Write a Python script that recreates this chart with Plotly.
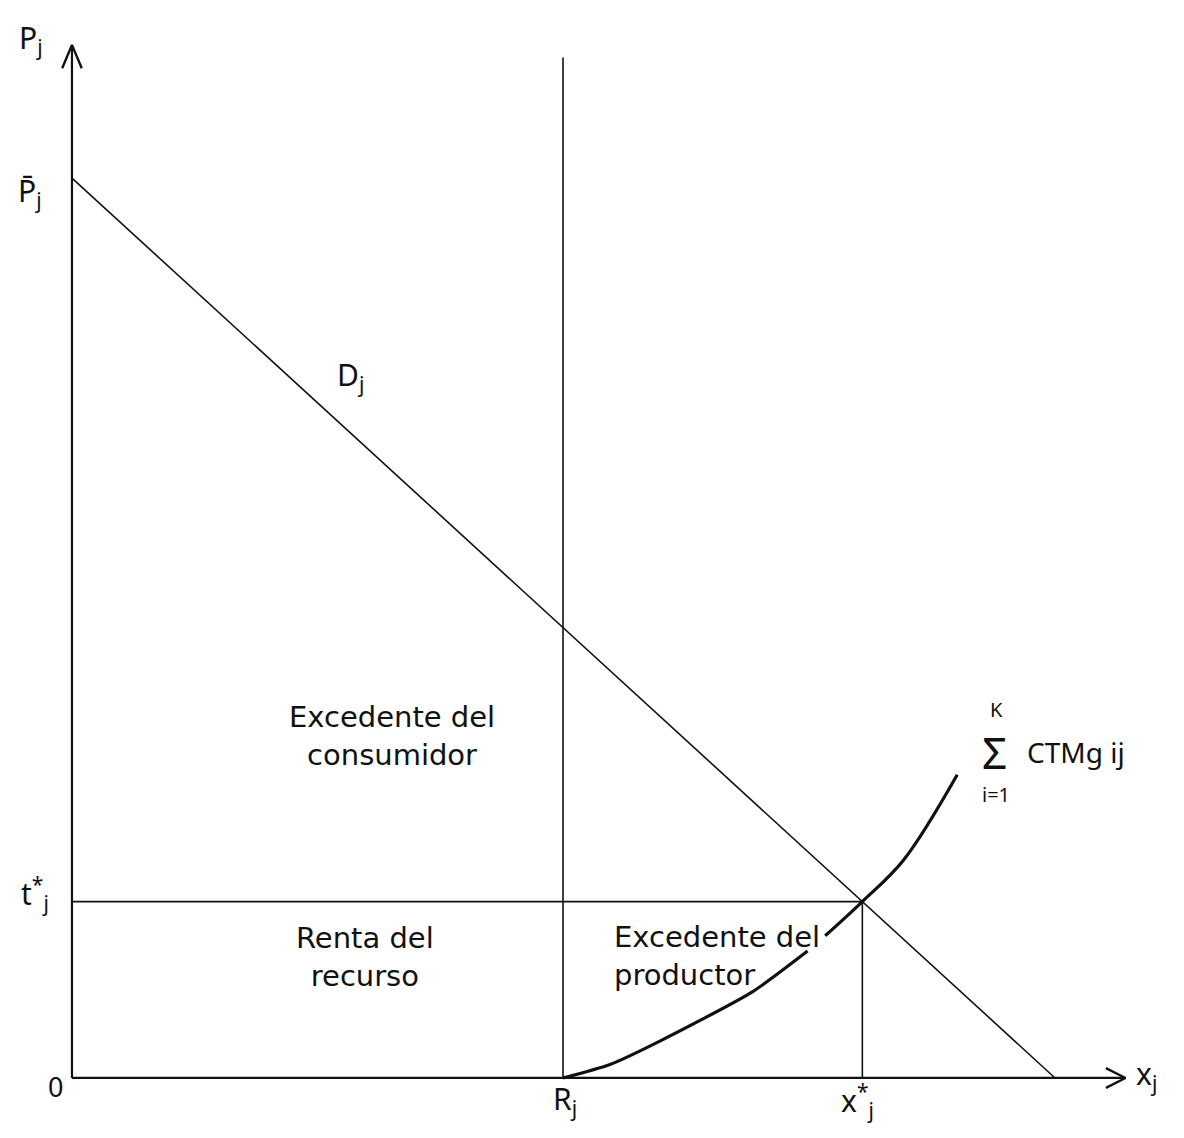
import plotly.graph_objects as go

# ---- data (abstract economic units) ----
demand_x = [0.0, 10.05]
demand_p = [10.0, 0.0]
R_j = 5.02
x_star = 8.08
t_star = 1.96
R_top = 11.34
x_axis_end = 10.77
y_axis_end = 11.48
# aggregate marginal cost curve (split where the label interrupts it)
supply_x1 = [5.02, 5.50, 6.01, 6.96, 7.52]
supply_p1 = [0.0, 0.15, 0.41, 0.96, 1.41]
supply_x2 = [7.70, 8.08, 8.50, 9.05]
supply_p2 = [1.58, 1.96, 2.42, 3.37]

BLACK = "#111111"
HAND = "Noto Sans"
TXT = "DejaVu Sans"

fig = go.Figure()

def line(xs, ys, w=1.6, shape="linear", smooth=0.6):
    fig.add_trace(go.Scatter(x=xs, y=ys, mode="lines",
                             line=dict(color=BLACK, width=w, shape=shape, smoothing=smooth),
                             hoverinfo="skip", showlegend=False))

# axes
line([0, 0], [0, y_axis_end], 2.2)
line([0, x_axis_end], [0, 0], 2.2)
# arrow heads (open V)
line([-0.1, 0, 0.1], [y_axis_end - 0.26, y_axis_end, y_axis_end - 0.26], 2.4)
line([x_axis_end - 0.2, x_axis_end, x_axis_end - 0.2], [0.11, 0, -0.11], 2.4)

# demand
line(demand_x, demand_p, 1.6)
# vertical at R_j
line([R_j, R_j], [0, R_top], 1.6)
# horizontal at t*
line([0, x_star], [t_star, t_star], 1.8)
# vertical at x*
line([x_star, x_star], [0, t_star], 1.6)
# supply
line(supply_x1, supply_p1, 3.2, "spline", 0.6)
line(supply_x2, supply_p2, 3.2, "spline", 1.0)

def ann(x, y, text, size=28, font=HAND, xanchor="center", align="center"):
    fig.add_annotation(x=x, y=y, text=text, showarrow=False,
                       font=dict(family=font, size=size, color=BLACK),
                       xanchor=xanchor, yanchor="middle", align=align)

# handwritten-style axis labels
ann(-0.42, 11.55, "P<sub>j</sub>", 30)
ann(-0.43, 9.85, "P̄<sub>j</sub>", 30)
ann(-0.38, 2.05, "t<sup>*</sup><sub>j</sub>", 30)
ann(-0.17, -0.09, "0", 27)
ann(R_j + 0.02, -0.25, "R<sub>j</sub>", 30)
ann(x_star - 0.05, -0.25, "x<sup>*</sup><sub>j</sub>", 30)
ann(10.98, 0.03, "x<sub>j</sub>", 30)
ann(2.85, 7.8, "D<sub>j</sub>", 30)

# summation label
ann(9.45, 4.1, "K", 20)
ann(9.43, 3.62, "Σ", 44)
ann(9.45, 3.15, "i=1", 20)
ann(9.74, 3.62, "CTMg ij", 28, xanchor="left")

# region labels
ann(3.27, 3.8, "Excedente del<br>consumidor", 29, TXT)
ann(3.0, 1.34, "Renta del<br>recurso", 29, TXT)
ann(5.52, 1.36, "Excedente del<br>productor", 29, TXT, xanchor="left", align="left")

# page body has an 8px margin: shift ranges so marks land where the reference has them
fig.update_layout(
    width=1184, height=1138,
    margin=dict(l=0, r=0, t=0, b=0),
    paper_bgcolor="white", plot_bgcolor="white",
    xaxis=dict(range=[-0.654, 11.45], visible=False, fixedrange=True),
    yaxis=dict(range=[-0.756, 11.89], visible=False, fixedrange=True),
    showlegend=False,
)

fig.write_html("out.html")
